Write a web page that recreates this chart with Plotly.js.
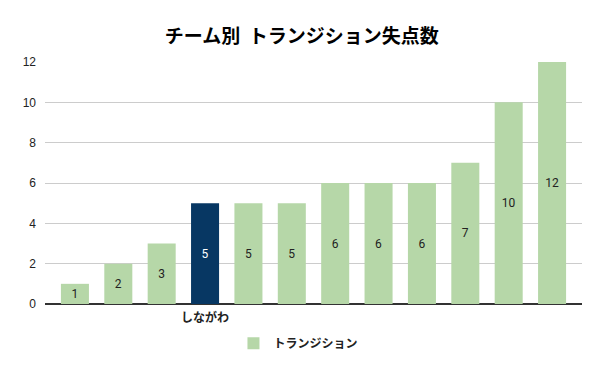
<!DOCTYPE html>
<html>
<head>
<meta charset="utf-8">
<script src="https://cdn.plot.ly/plotly-3.0.1.min.js"></script>
<style>
  html, body { margin: 0; padding: 0; background: #ffffff; }
  #chart { width: 600px; height: 371px; }
</style>
</head>
<body>
<div id="chart"></div>
<script>
// Data
const teamLabels = ["", "", "", "しながわ", "", "", "", "", "", "", "", ""];
const goalsConceded = [1, 2, 3, 5, 5, 5, 6, 6, 6, 7, 10, 12];
const highlightIndex = 3;
const seriesName = "トランジション";
const chartTitle = "チーム別  トランジション失点数";
const yTicks = [0, 2, 4, 6, 8, 10, 12];

const green = "#b6d7a8";
const navy = "#073763";

const idx = goalsConceded.map((_, i) => i);
const colors = idx.map(i => i === highlightIndex ? navy : green);
const textColors = idx.map(i => i === highlightIndex ? "#ffffff" : "#222222");

const trace = {
  type: "bar",
  x: idx,
  y: goalsConceded,
  name: "<b>" + seriesName + "</b>",
  marker: { color: colors },
  text: goalsConceded.map(String),
  textposition: "inside",
  insidetextanchor: "middle",
  textangle: 0,
  insidetextfont: { family: "Roboto, 'Liberation Sans', sans-serif", size: 12, color: textColors },
  hoverinfo: "none",
  showlegend: true
};

const layout = {
  width: 600,
  height: 371,
  paper_bgcolor: "#ffffff",
  plot_bgcolor: "#ffffff",
  margin: { l: 45, r: 18, t: 62, b: 67 },
  bargap: 0.354,
  title: {
    text: "<b>" + chartTitle + "</b>",
    font: { family: "'Noto Sans CJK JP', sans-serif", size: 19, color: "#000000" },
    x: 0.503, xanchor: "center",
    y: 0.902, yanchor: "middle"
  },
  xaxis: {
    range: [-0.69, 11.69],
    tickvals: idx,
    ticktext: teamLabels.map(t => t ? "<b>" + t + "</b>" : ""),
    tickfont: { family: "'Noto Sans CJK JP', sans-serif", size: 12, color: "#222222" },
    showgrid: false,
    zeroline: false,
    showline: false,
    ticks: "",
    ticklabelstandoff: 5,
    fixedrange: true
  },
  yaxis: {
    range: [0, 12],
    tickvals: yTicks,
    ticktext: yTicks.map(String),
    tickfont: { family: "'Liberation Sans', Arial, sans-serif", size: 12, color: "#222222" },
    showgrid: true,
    gridcolor: "#cccccc",
    gridwidth: 1,
    zeroline: true,
    zerolinecolor: "#333333",
    zerolinewidth: 1.5,
    ticks: "",
    ticklabelstandoff: 8,
    fixedrange: true
  },
  showlegend: true,
  legend: {
    orientation: "h",
    x: 0.472, xanchor: "center",
    y: -0.162, yanchor: "middle",
    font: { family: "'Noto Sans CJK JP', sans-serif", size: 12, color: "#222222" },
    itemwidth: 30
  }
};

Plotly.newPlot("chart", [trace], layout, { displayModeBar: false, staticPlot: true });
</script>
</body>
</html>
